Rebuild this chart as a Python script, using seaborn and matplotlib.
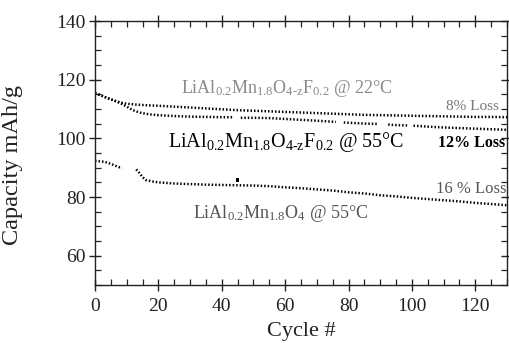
import numpy as np
import pandas as pd
import matplotlib
matplotlib.use("Agg")
import matplotlib.pyplot as plt
import seaborn as sns
from matplotlib.ticker import MultipleLocator

# ---- data ----
# LiAl0.2Mn1.8O4-zF0.2 @ 22C  (segment ids mark breaks in the trace)
cyc_22 = [0, 2, 4, 6, 8, 10, 13, 16, 20, 25, 30, 35, 40, 45, 50, 55, 60, 65, 70,
          75, 80, 85, 90, 95, 100, 105, 110, 115, 120, 125, 130]
cap_22 = [115.4, 114.6, 113.7, 112.9, 112.2, 111.8, 111.5, 111.3, 111.1, 110.8,
          110.5, 110.2, 109.9, 109.6, 109.4, 109.2, 109.0, 108.8, 108.6, 108.4,
          108.2, 108.0, 107.9, 107.8, 107.7, 107.6, 107.5, 107.4, 107.3, 107.3, 107.2]
seg_22 = [0] * len(cyc_22)

# LiAl0.2Mn1.8O4-zF0.2 @ 55C
cyc_55f = [0, 2, 4, 6, 8, 10, 12, 14, 17, 20, 25, 30, 35, 40, 43.5,
           46, 50, 55, 60, 65, 70, 76,
           78.5, 82, 86, 89.5,
           92.5, 95, 98.5,
           100.5, 105, 110, 115, 120, 125, 130]
cap_55f = [115.4, 114.6, 113.7, 112.9, 112.0, 110.8, 109.6, 108.8, 108.2, 107.9,
           107.6, 107.4, 107.3, 107.2, 107.2,
           107.0, 107.0, 106.9, 106.6, 106.3, 106.0, 105.6,
           105.4, 105.2, 105.0, 104.9,
           104.7, 104.5, 104.4,
           104.3, 104.0, 103.7, 103.5, 103.3, 103.1, 102.9]
seg_55f = [0] * 15 + [1] * 7 + [2] * 4 + [3] * 3 + [4] * 7

# LiAl0.2Mn1.8O4 @ 55C
cyc_55 = [0, 3, 5, 7, 8.5,
          13, 14, 15, 16, 18, 20, 25, 30, 35, 40, 45, 50, 55, 60, 65, 70, 75,
          80, 85, 90, 95, 100, 105, 110, 115, 120, 125, 130]
cap_55 = [92.3, 92.0, 91.3, 90.4, 89.8,
          89.4, 88.2, 86.8, 85.8, 85.3, 85.0, 84.6, 84.4, 84.2, 84.1, 84.0, 83.9,
          83.7, 83.3, 83.0, 82.6, 82.2, 81.6, 81.2, 80.6, 80.2, 79.7, 79.3, 78.9,
          78.5, 78.0, 77.6, 77.2]
seg_55 = [0] * 5 + [1] * 28
outlier_cyc = [45]
outlier_cap = [85.8]

xticks = [0, 20, 40, 60, 80, 100, 120]
yticks = [60, 80, 100, 120, 140]

# ---- styling ----
sns.set_theme(style="ticks")
plt.rcParams["font.family"] = ["Liberation Serif", "DejaVu Serif"]
plt.rcParams["mathtext.fontset"] = "custom"
plt.rcParams["mathtext.rm"] = "Liberation Serif"
plt.rcParams["mathtext.it"] = "Liberation Serif:italic"
plt.rcParams["mathtext.bf"] = "Liberation Serif:bold"

fig = plt.figure(figsize=(5.10, 3.43), dpi=100)
ax = fig.add_axes([95 / 510, 1 - 285 / 343, (507 - 95) / 510, (285 - 21) / 343])

line_kw = dict(estimator=None, color="black", linewidth=1.8, legend=False, ax=ax)
for cyc, cap, seg in [(cyc_22, cap_22, seg_22), (cyc_55f, cap_55f, seg_55f), (cyc_55, cap_55, seg_55)]:
    df = pd.DataFrame({"cycle": cyc, "cap": cap, "seg": seg})
    sns.lineplot(data=df, x="cycle", y="cap", units="seg", dashes=False, **line_kw)
for l in ax.lines:
    l.set_linestyle((0, (0.6, 0.8)))
sns.scatterplot(x=outlier_cyc, y=outlier_cap, color="black", s=6, marker="s",
                edgecolor="none", ax=ax, legend=False)

ax.set_xlim(0, 130)
ax.set_ylim(50, 140)
ax.set_xticks(xticks)
ax.set_yticks(yticks)
ax.xaxis.set_minor_locator(MultipleLocator(5))
ax.yaxis.set_minor_locator(MultipleLocator(5))
for s in ax.spines.values():
    s.set_visible(True)
    s.set_linewidth(1.0)
    s.set_color("#222222")
ax.tick_params(which="major", direction="inout", length=9, width=1.0,
               top=True, right=True, labelsize=14, colors="#222222")
ax.tick_params(axis="x", which="major", pad=5)
ax.tick_params(axis="y", which="major", pad=2)
ax.tick_params(which="minor", direction="in", length=4, width=0.9,
               top=True, right=True, colors="#222222")

ax.set_xlabel("Cycle #", fontsize=16, color="#222222", labelpad=5)
ax.set_ylabel("Capacity mAh/g", fontsize=17.5, color="#222222")
ax.yaxis.set_label_coords(-0.175, 0.455)

ax.text(27, 115.3, r"LiAl$_{0.2}$Mn$_{1.8}$O$_{\text{4-z}}$F$_{0.2}$ @ 22°C",
        fontsize=13, color="#8a8a8a", va="baseline")
ax.text(23, 97.2, r"LiAl$_{0.2}$Mn$_{1.8}$O$_{\text{4-z}}$F$_{0.2}$ @ 55°C",
        fontsize=14.5, color="black", va="baseline")
ax.text(31, 73.0, r"LiAl$_{0.2}$Mn$_{1.8}$O$_{4}$ @ 55°C",
        fontsize=13, color="#555555", va="baseline")
ax.text(127.5, 109.6, "8% Loss", fontsize=11, color="#777777", ha="right", va="baseline")
ax.text(129.5, 97.0, "12% Loss", fontsize=11.5, color="black", fontweight="bold",
        ha="right", va="baseline")
ax.text(130, 81.3, "16 % Loss", fontsize=12, color="#555555", ha="right", va="baseline")

fig.savefig("out.png", dpi=100)
